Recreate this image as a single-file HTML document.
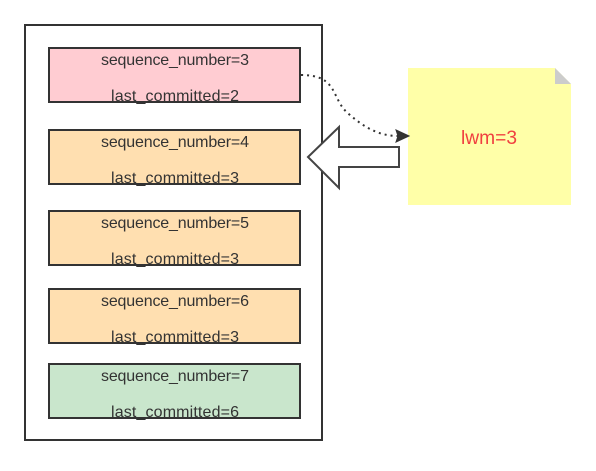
<!DOCTYPE html>
<html><head><style>body{margin:0;background:#fff}</style></head><body>
<svg width="596" height="466" xmlns="http://www.w3.org/2000/svg" font-family="Liberation Sans, sans-serif" font-size="16">
<rect x="25" y="25" width="297" height="415" fill="#fff" stroke="#333" stroke-width="2"/>
<g stroke="#333" stroke-width="2">
<rect x="49" y="48" width="251" height="54" fill="#ffccd2"/>
<rect x="49" y="130" width="251" height="54" fill="#ffdfb0"/>
<rect x="49" y="211" width="251" height="54" fill="#ffdfb0"/>
<rect x="49" y="289" width="251" height="54" fill="#ffdfb0"/>
<rect x="49" y="364" width="251" height="54" fill="#c9e6cc"/>
</g>
<g fill="#333" text-anchor="middle" lengthAdjust="spacingAndGlyphs">
<text x="175" y="65" textLength="148">sequence_number=3</text><text x="175" y="101" textLength="128">last_committed=2</text>
<text x="175" y="147" textLength="148">sequence_number=4</text><text x="175" y="183" textLength="128">last_committed=3</text>
<text x="175" y="228" textLength="148">sequence_number=5</text><text x="175" y="264" textLength="128">last_committed=3</text>
<text x="175" y="306" textLength="148">sequence_number=6</text><text x="175" y="342" textLength="128">last_committed=3</text>
<text x="175" y="381" textLength="148">sequence_number=7</text><text x="175" y="417" textLength="128">last_committed=6</text>
</g>
<path d="M408 68 H555 L571 84 V205 H408 Z" fill="#ffffa8"/>
<path d="M555 68 L571 84 H555 Z" fill="#ccc"/>
<text x="489" y="144" fill="#f04040" font-size="19" text-anchor="middle" textLength="56" lengthAdjust="spacingAndGlyphs">lwm=3</text>
<path d="M301 75 C340 75 330 100 350 115 C365 128 380 136 398 136" fill="none" stroke="#333" stroke-width="2" stroke-dasharray="2,4"/>
<path d="M409 136 L396 130 L398 136 L396 142 Z" fill="#333" stroke="#333"/>
<path d="M308 157 L339 127 V147 H399 V167 H339 V188 Z" fill="#fff" stroke="#444" stroke-width="2"/>
</svg>
</body></html>
